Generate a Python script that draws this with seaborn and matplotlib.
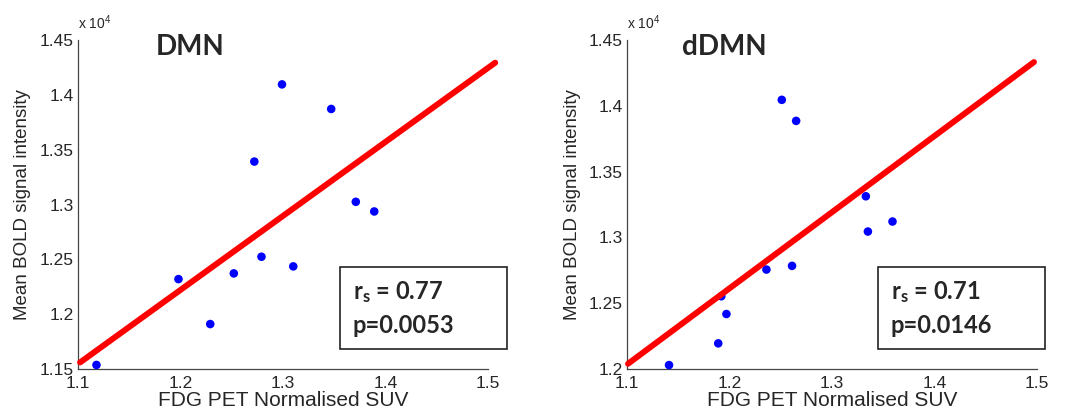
import matplotlib
matplotlib.use("Agg")
import matplotlib.pyplot as plt
import seaborn as sns
import pandas as pd
from matplotlib.patches import Rectangle
from matplotlib.ticker import FuncFormatter

# values (BOLD in raw units, axis shows x 10^4)
dmn_suv = [1.118, 1.198, 1.229, 1.252, 1.272, 1.279, 1.299, 1.310, 1.347, 1.371, 1.389]
dmn_bold = [11537, 12320, 11910, 12372, 13392, 12524, 14096, 12436, 13872, 13025, 12937]
dmn_fit_x = [1.102, 1.507]
dmn_fit_y = [11560, 14294]

ddmn_suv = [1.141, 1.189, 1.192, 1.197, 1.236, 1.251, 1.261, 1.265, 1.333, 1.335, 1.359]
ddmn_bold = [12030, 12195, 12553, 12418, 12756, 14046, 12784, 13886, 13313, 13045, 13121]
ddmn_fit_x = [1.101, 1.497]
ddmn_fit_y = [12040, 14333]

titles = ["DMN", "dDMN"]
rs_text = ["0.77", "0.71"]
p_text = ["p=0.0053", "p=0.0146"]
x_ticks = [1.1, 1.2, 1.3, 1.4, 1.5]
y_ticks_dmn = [11500, 12000, 12500, 13000, 13500, 14000, 14500]
y_ticks_ddmn = [12000, 12500, 13000, 13500, 14000, 14500]

sns.set_style("white")
plt.rcParams["font.family"] = ["Liberation Sans", "DejaVu Sans"]
plt.rcParams["mathtext.fontset"] = "custom"
plt.rcParams["mathtext.rm"] = "Liberation Sans"
plt.rcParams["mathtext.bf"] = "Lato:bold"

fig = plt.figure(figsize=(10.79, 4.19), dpi=100)
ax1 = fig.add_axes([0.0723, 0.1193, 0.380, 0.785])
ax2 = fig.add_axes([0.5811, 0.1193, 0.380, 0.785])

panels = [
    (ax1, dmn_suv, dmn_bold, dmn_fit_x, dmn_fit_y, y_ticks_dmn, 0.3151),
    (ax2, ddmn_suv, ddmn_bold, ddmn_fit_x, ddmn_fit_y, y_ticks_ddmn, 0.8137),
]

for i, (ax, xs, ys, fx, fy, yt, box_x) in enumerate(panels):
    df = pd.DataFrame({"suv": xs, "bold": ys})
    fit = pd.DataFrame({"suv": fx, "bold": fy})
    sns.scatterplot(data=df, x="suv", y="bold", ax=ax, color="#0000ff",
                    s=38, edgecolor="none", clip_on=False, zorder=3)
    sns.lineplot(data=fit, x="suv", y="bold", ax=ax, color="#ff0000",
                 linewidth=4.3, zorder=4)
    for ln in ax.lines:
        ln.set_clip_on(False)

    ax.set_xlim(1.1, 1.5)
    ax.set_ylim(yt[0], yt[-1])
    ax.set_xticks(x_ticks)
    ax.set_xticklabels([f"{t:g}" for t in x_ticks])
    ax.set_yticks(yt)
    ax.yaxis.set_major_formatter(FuncFormatter(lambda v, pos: f"{v / 1e4:g}"))
    ax.tick_params(direction="in", length=4, width=0.8, color="#333333",
                   labelsize=12.5, pad=3)
    ax.tick_params(axis="x", pad=5)
    for side in ["top", "right"]:
        ax.spines[side].set_visible(False)
    for side in ["left", "bottom"]:
        ax.spines[side].set_color("#444444")
        ax.spines[side].set_linewidth(0.9)

    ax.set_xlabel("FDG PET Normalised SUV", fontsize=15, labelpad=0)
    ax.set_ylabel("Mean BOLD signal intensity", fontsize=13.5, labelpad=6)

    ax.text(0.0, 1.025, r"x 10$^4$", transform=ax.transAxes, fontsize=10,
            ha="left", va="bottom")
    ax.text(0.19 if i == 0 else 0.135, 0.955, titles[i], transform=ax.transAxes,
            fontsize=20, fontweight="bold", family="Lato", ha="left", va="baseline")

    fig.patches.append(Rectangle((box_x, 0.1671), 0.1548, 0.1957,
                                 transform=fig.transFigure, fill=False,
                                 edgecolor="#222222", linewidth=1.2))
    fig.text(box_x + 0.012, 0.2864, r"$\mathbf{r_s}$ = " + rs_text[i],
             fontsize=17, fontweight="bold", family="Lato", va="baseline")
    fig.text(box_x + 0.012, 0.2053, p_text[i],
             fontsize=17, fontweight="bold", family="Lato", va="baseline")

fig.savefig("out.png", dpi=100)
